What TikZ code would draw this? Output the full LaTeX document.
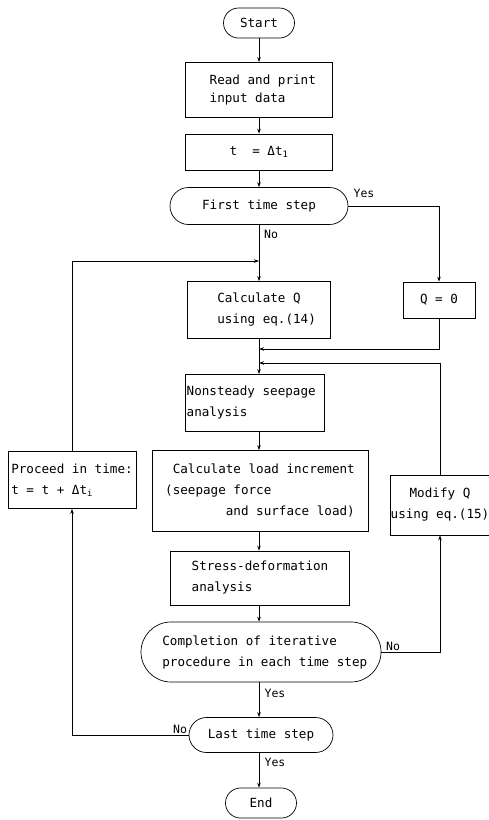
\documentclass[tikz,border=0pt]{standalone}
\usepackage{fontspec}
\setmainfont{DejaVu Sans Mono}
\usetikzlibrary{arrows.meta}
\begin{document}
\begin{tikzpicture}[x=1pt,y=-1pt,
  font=\fontsize{12.6}{21}\selectfont,
  box/.style={draw, line width=0.7pt, inner xsep=0pt, inner ysep=2pt, align=left},
  term/.style={box, rounded corners=#1},
  flow/.style={line width=0.6pt, -{Stealth[length=5pt,width=3.5pt]}},
  lbl/.style={font=\fontsize{11.5}{13}\selectfont, inner sep=1pt}]
\useasboundingbox (0,0) rectangle (489,820);

\node[term=15pt, minimum width=71pt, minimum height=30pt] (start) at (259,23) {Start};
\node[box, minimum width=147pt, minimum height=55pt, font=\fontsize{12.6}{18}\selectfont] (read) at (259,90) {\hphantom{x}Read and print\\\hphantom{x}input data};
\node[box, minimum width=147pt, minimum height=36pt] (tbox) at (259,152) {t\hphantom{x} = Δt\textsubscript{1}};
\node[term=18.5pt, minimum width=178pt, minimum height=37pt] (first) at (259,206) {First time step};
\node[box, minimum width=143pt, minimum height=57pt] (calcq) at (259,310) {\hphantom{xx}Calculate Q\\\hphantom{xx}using eq.(14)};
\node[box, minimum width=72pt, minimum height=36pt] (q0) at (439,300) {Q = 0};
\node[box, minimum width=139pt, minimum height=57pt] (nons) at (255,403) {Nonsteady seepage\hphantom{x}\\analysis};
\node[box, minimum width=216pt, minimum height=81pt] (load) at (260,491) {\hphantom{x}Calculate load increment\\(seepage force\\\hphantom{xxxxxxxx}and surface load)};
\node[box, minimum width=128pt, minimum height=57pt] (proc) at (72,480) {Proceed in time:\\t = t + Δt\textsubscript{i}};
\node[box, minimum width=95pt, minimum height=60pt, align=center] (mod) at (440,505) {Modify Q\\using eq.(15)};
\node[box, minimum width=179pt, minimum height=54pt] (stress) at (260,578) {Stress-deformation\\analysis};
\node[term=30pt, minimum width=240pt, minimum height=60pt] (compl) at (261,652) {\hphantom{x}Completion of iterative\\\hphantom{x}procedure in each time step};
\node[term=17.5pt, minimum width=144pt, minimum height=35pt] (last) at (261,735) {Last time step};
\node[term=15pt, minimum width=71pt, minimum height=30pt] (end) at (261,803) {End};

\coordinate (mx) at (259,0);
\coordinate (j1) at (259,261);
\coordinate (j2) at (259,349);
\coordinate (j3) at (259,363);

\draw[flow] (start.south) -- (start.south |- read.north);
\draw[flow] (read.south) -- (read.south |- tbox.north);
\draw[flow] (tbox.south) -- (tbox.south |- first.north);
\draw[flow] (first.east) -| (q0.north);
\draw[flow] (first.south) -- (first.south |- calcq.north);
\draw[flow] (proc.north) |- (j1);
\draw[flow] (calcq.south) -- (calcq.south |- nons.north);
\draw[flow] (q0.south) |- (j2);
\draw[flow] (mod.north) |- (j3);
\draw[flow] (mx |- nons.south) -- (mx |- load.north);
\draw[flow] (mx |- load.south) -- (mx |- stress.north);
\draw[flow] (mx |- stress.south) -- (mx |- compl.north);
\draw[flow] (mx |- compl.south) -- (mx |- last.north);
\draw[flow] (mx |- last.south) -- (mx |- end.north);
\draw[flow] (compl.east) -| (mod.south);
\draw[flow] (last.west) -| (proc.south);

\node[lbl] (yes1) at (364,193) {Yes};
\node[lbl] (no1) at (271,234) {No};
\node[lbl] (no2) at (393,646) {No};
\node[lbl] (yes2) at (275,693) {Yes};
\node[lbl] (no3) at (180,729) {No};
\node[lbl] (yes3) at (275,762) {Yes};
\end{tikzpicture}
\end{document}
